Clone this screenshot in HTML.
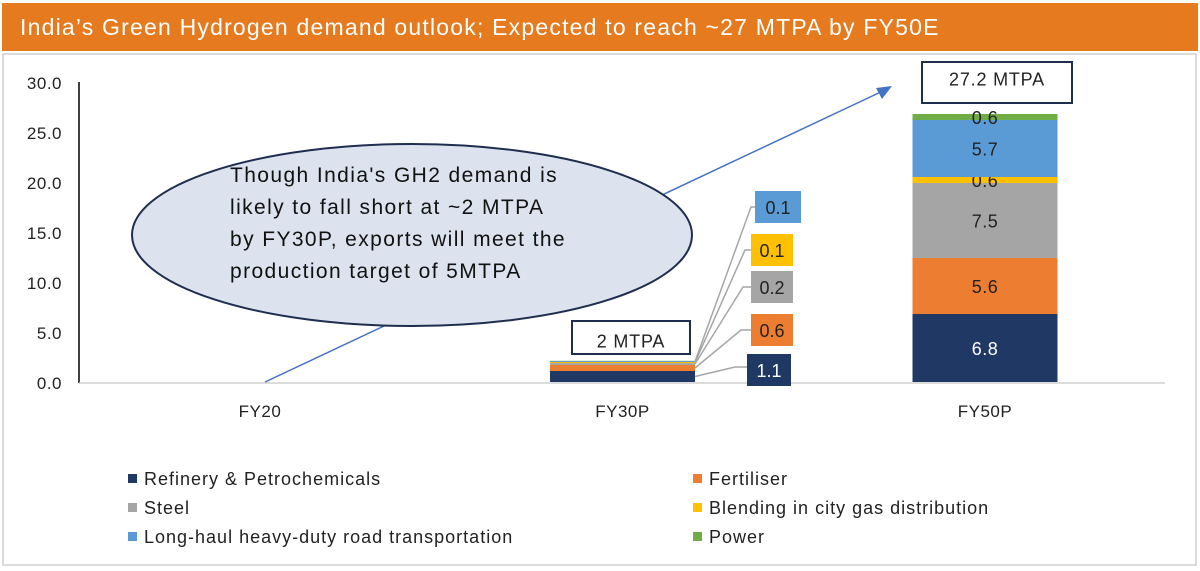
<!DOCTYPE html>
<html><head><meta charset="utf-8"><style>
body{margin:0;width:1200px;height:571px;background:#fff;font-family:"Liberation Sans",sans-serif;overflow:hidden}
</style></head><body>
<div style="position:absolute;left:2px;top:3px;width:1196px;height:48px;background:#E57A1E;color:#fff;font-size:23px;letter-spacing:1.2px;line-height:48px;padding-left:18px;box-sizing:border-box">India’s Green Hydrogen demand outlook; Expected to reach ~27 MTPA by FY50E</div>
<svg id="c" width="1200" height="571" style="position:absolute;left:0;top:0" font-family="Liberation Sans, sans-serif">
<rect x="3" y="54" width="1193" height="511" fill="none" stroke="#cfcfcf" stroke-width="1.5"/>
</svg>
<script>
const categories=["FY20","FY30P","FY50P"];
const seriesNames=["Refinery & Petrochemicals","Fertiliser","Steel","Blending in city gas distribution","Long-haul heavy-duty road transportation","Power"];
const colors=["#203864","#ED7D31","#A5A5A5","#FFC000","#5B9BD5","#70AD47"];
const refinery=[0,1.1,6.8];
const fertiliser=[0,0.6,5.6];
const steel=[0,0.2,7.5];
const blending=[0,0.1,0.6];
const transport=[0,0.1,5.7];
const power=[0,0.02,0.6];
const yTicks=[0,5,10,15,20,25,30];
const series=[refinery,fertiliser,steel,blending,transport,power];
const svg=document.getElementById('c');const NS="http://www.w3.org/2000/svg";
function y(v){return 382-v*10}
function x(i){return 260+i*362.5}
function mk(t,a,p){const e=document.createElementNS(NS,t);for(const k in a)e.setAttribute(k,a[k]);(p||svg).appendChild(e);return e}
yTicks.forEach(t=>{const e=mk('text',{x:62,y:y(t)+7,'text-anchor':'end','font-size':17,fill:'#222','letter-spacing':0.5});e.textContent=t.toFixed(1);

});
const ax=mk('line',{x1:79,y1:82,x2:79,y2:383,stroke:'#000','stroke-width':1.5});


const bx=mk('line',{x1:79,y1:383,x2:1165,y2:383,stroke:'#d0d0d0','stroke-width':1.5});


categories.forEach((c,i)=>{const e=mk('text',{x:x(i),y:417,'text-anchor':'middle','font-size':17,fill:'#222','letter-spacing':0.5});e.textContent=c;

});
// arrow behind ellipse
const ar=mk('line',{x1:265,y1:382,x2:885,y2:90,stroke:'#4472C4','stroke-width':1.5});


const ah=mk('polygon',{points:'892,86 876,88 882,99',fill:'#4472C4'});


const el=mk('ellipse',{cx:412,cy:235,rx:280,ry:91,fill:'#DCE3EF',stroke:'#1F2D4E','stroke-width':2});


["Though India's GH2 demand is","likely to fall short at ~2 MTPA","by FY30P, exports will meet the","production target of 5MTPA"].forEach((t,k)=>{const e=mk('text',{x:230,y:182+k*32,'font-size':21,fill:'#111','letter-spacing':1.4});e.textContent=t;

});
// bars
const bw=145;
categories.forEach((c,i)=>{let acc=0;series.forEach((s,j)=>{const v=s[i];if(!v)return;
const r=mk('rect',{x:x(i)-bw/2,y:y(acc+v),width:bw,height:v*10,fill:colors[j]});


if(i==2){const t=mk('text',{x:x(i),y:y(acc+v/2)+7,'text-anchor':'middle','font-size':18,fill:j==0?'#fff':'#222','letter-spacing':0.5});t.textContent=v.toFixed(1);

}
acc+=v;});});
// FY30 callouts
const cy=[370,330,287,250,207];const cw=[44,42,42,42,46];
let acc=0;for(let j=0;j<5;j++){const v=series[j][1];const my=y(acc+v/2);acc+=v;
const lx=x(1)+bw/2;const bxl=754+(j==4?4:0)-(j==0?4:0);
const pl=mk('polyline',{points:`${lx},${my} ${bxl-15+j*2},${cy[j]-(j==0?3:0)} ${bxl},${cy[j]-(j==0?3:0)}`,fill:'none',stroke:'#a6a6a6','stroke-width':1.5});


const r=mk('rect',{x:bxl-3,y:cy[j]-16,width:cw[j],height:32,fill:colors[j]});


const t=mk('text',{x:bxl-3+cw[j]/2,y:cy[j]+7,'text-anchor':'middle','font-size':18,fill:j==0?'#fff':'#222'});t.textContent=v.toFixed(1);

}
// total boxes
[[572,321,118,33,'2 MTPA'],[922,62,150,41,'27.2 MTPA']].forEach(b=>{const r=mk('rect',{x:b[0],y:b[1],width:b[2],height:b[3],fill:'#fff',stroke:'#1F2D4E','stroke-width':2});


const t=mk('text',{x:b[0]+b[2]/2,y:b[1]+b[3]/2+(b[3]>35?3:10),'text-anchor':'middle','font-size':18,fill:'#222','letter-spacing':0.8});t.textContent=b[4];

});
// legend
seriesNames.forEach((n,j)=>{const lx=j%2?693:128,ly=479+Math.floor(j/2)*29;
const r=mk('rect',{x:lx,y:ly-5,width:9,height:9,fill:colors[j]});


const t=mk('text',{x:lx+16,y:ly+6,'font-size':18,fill:'#222','letter-spacing':1});t.textContent=n;

});
</script>
</body></html>
